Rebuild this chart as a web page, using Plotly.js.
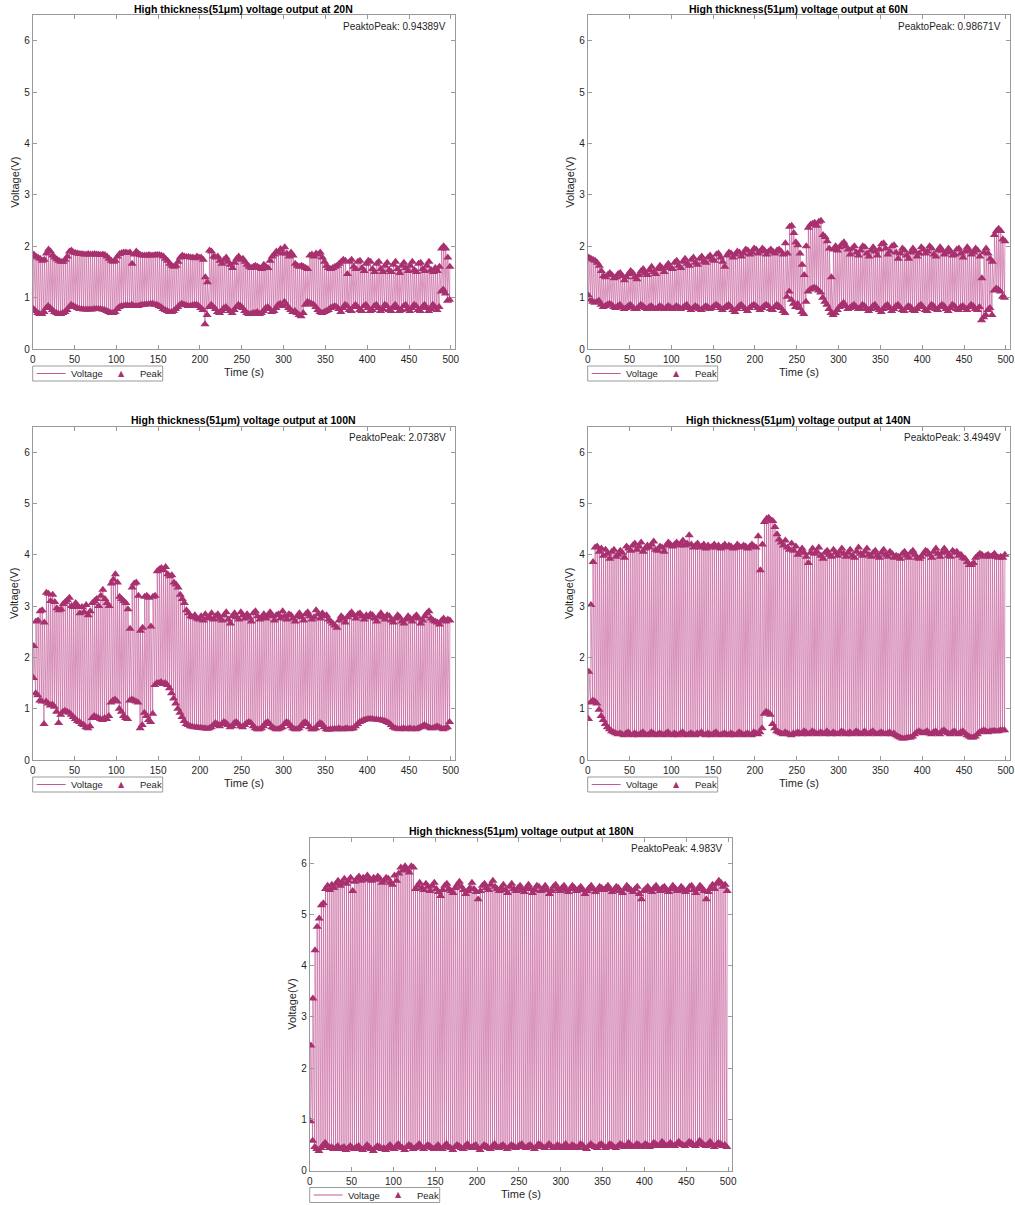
<!DOCTYPE html>
<html>
<head>
<meta charset="utf-8">
<script src="https://cdn.plot.ly/plotly-3.0.1.min.js"></script>
<style>
  html, body { margin: 0; padding: 0; background: #ffffff; }
  #chart { width: 1015px; height: 1205px; }
</style>
</head>
<body>
<div id="chart"></div>
<script>
// Load levels tested, and the peak-to-peak value reported for each run
const forceLabels = ['20N', '60N', '100N', '140N', '180N'];
const peakToPeak = ['0.94389', '0.98671', '2.0738', '3.4949', '4.983'];

// Sampling of the press/release cycles (seconds)
const cycleStart = 1.0;
const cyclePeriod = 2.5;
const riseTime = 0.4;

// Per-cycle maxima (hi) and minima (lo) of the voltage, in volts, 200 cycles per run
const hi20N = [
  1.84,1.80,1.78,1.76,1.72,1.74,1.86,1.94,1.90,1.82,1.78,1.75,1.72,1.70,1.70,1.74,1.80,1.90,1.92,1.88,
  1.87,1.86,1.85,1.85,1.84,1.84,1.85,1.84,1.84,1.85,1.84,1.84,1.83,1.84,1.83,1.80,1.76,1.72,1.70,1.72,
  1.80,1.85,1.87,1.88,1.88,1.87,1.88,1.66,1.84,1.90,1.86,1.83,1.82,1.82,1.82,1.83,1.82,1.82,1.83,1.83,
  1.83,1.82,1.80,1.76,1.72,1.66,1.62,1.60,1.62,1.70,1.78,1.82,1.80,1.79,1.79,1.78,1.78,1.77,1.80,1.78,
  1.78,1.74,1.40,1.30,1.92,1.90,1.80,1.78,1.80,1.72,1.66,1.74,1.78,1.70,1.64,1.58,1.68,1.76,1.80,1.74,
  1.76,1.70,1.64,1.60,1.58,1.60,1.62,1.60,1.58,1.56,1.64,1.60,1.58,1.72,1.80,1.84,1.90,1.88,1.95,1.86,
  1.98,1.86,1.80,1.88,1.82,1.66,1.62,1.60,1.62,1.60,1.58,1.56,1.82,1.84,1.80,1.86,1.84,1.88,1.78,1.70,
  1.62,1.58,1.56,1.58,1.60,1.62,1.66,1.70,1.74,1.72,1.46,1.70,1.74,1.60,1.56,1.70,1.72,1.58,1.52,1.66,
  1.72,1.70,1.56,1.50,1.66,1.70,1.56,1.50,1.62,1.68,1.54,1.50,1.64,1.70,1.56,1.48,1.62,1.68,1.58,1.52,
  1.62,1.70,1.54,1.50,1.66,1.68,1.56,1.52,1.62,1.70,1.54,1.50,1.58,1.52,1.60,1.96,2.00,1.96,1.78,1.60
];
const lo20N = [
  0.78,0.74,0.70,0.68,0.68,0.72,0.80,0.84,0.80,0.76,0.72,0.70,0.68,0.68,0.70,0.72,0.76,0.82,0.86,0.84,
  0.82,0.80,0.78,0.78,0.77,0.77,0.77,0.77,0.77,0.78,0.78,0.78,0.78,0.77,0.76,0.74,0.72,0.70,0.70,0.72,
  0.78,0.82,0.84,0.84,0.85,0.85,0.84,0.86,0.84,0.84,0.84,0.85,0.86,0.86,0.87,0.87,0.88,0.88,0.86,0.86,
  0.84,0.82,0.78,0.76,0.74,0.72,0.72,0.74,0.78,0.82,0.86,0.88,0.86,0.85,0.84,0.84,0.85,0.86,0.86,0.84,
  0.80,0.76,0.48,0.66,0.82,0.86,0.82,0.78,0.72,0.70,0.74,0.80,0.82,0.78,0.74,0.70,0.76,0.82,0.86,0.84,
  0.80,0.74,0.70,0.68,0.68,0.70,0.70,0.72,0.68,0.70,0.74,0.80,0.82,0.78,0.72,0.74,0.80,0.86,0.88,0.84,
  0.92,0.86,0.80,0.76,0.72,0.74,0.70,0.66,0.64,0.70,0.86,0.92,0.90,0.88,0.86,0.82,0.76,0.72,0.70,0.72,
  0.74,0.76,0.80,0.82,0.84,0.82,0.78,0.72,0.80,0.86,0.84,0.76,0.74,0.82,0.86,0.82,0.76,0.74,0.84,0.86,
  0.80,0.74,0.76,0.84,0.86,0.80,0.74,0.78,0.86,0.84,0.76,0.74,0.82,0.86,0.80,0.74,0.76,0.84,0.86,0.78,
  0.74,0.80,0.86,0.84,0.76,0.74,0.82,0.86,0.80,0.74,0.78,0.86,0.82,0.76,0.82,1.12,1.16,1.08,0.94,0.96
];

const hi60N = [
  1.78,1.76,1.74,1.72,1.68,1.62,1.52,1.42,1.40,1.44,1.48,1.44,1.38,1.40,1.46,1.48,1.42,1.34,1.40,1.46,
  1.52,1.48,1.40,1.36,1.44,1.52,1.56,1.48,1.44,1.54,1.60,1.50,1.46,1.56,1.62,1.58,1.50,1.60,1.66,1.58,
  1.56,1.68,1.72,1.62,1.58,1.70,1.76,1.66,1.62,1.74,1.78,1.68,1.64,1.76,1.80,1.70,1.68,1.78,1.82,1.74,
  1.72,1.84,1.86,1.78,1.70,1.60,1.82,1.88,1.86,1.78,1.84,1.90,1.88,1.80,1.86,1.94,1.92,1.84,1.88,1.96,
  1.94,1.86,1.90,1.96,1.92,1.84,1.90,1.94,1.90,1.86,1.92,1.94,1.90,1.84,2.06,1.86,2.38,2.40,2.26,2.08,
  2.02,1.86,1.64,1.44,2.00,2.36,2.42,2.44,2.46,2.40,2.48,2.50,2.22,2.18,2.10,1.96,1.40,1.94,2.00,1.92,
  1.98,2.04,2.08,2.00,1.94,1.84,1.96,2.00,1.88,1.82,1.92,2.00,1.98,1.86,1.80,1.92,1.98,1.90,1.82,1.94,
  2.04,2.06,1.96,1.84,1.90,2.00,2.02,1.88,1.76,1.86,1.96,1.92,1.82,1.76,1.88,1.96,1.90,1.80,1.86,1.98,
  1.94,1.86,1.90,2.00,1.96,1.84,1.80,1.92,1.98,1.92,1.84,1.88,1.96,1.90,1.82,1.84,1.94,1.96,1.86,1.78,
  1.90,1.98,1.92,1.84,1.88,1.96,1.92,1.80,1.38,1.88,1.96,1.86,1.76,1.70,2.22,2.30,2.34,2.30,2.14,2.10
];
const lo60N = [
  1.04,0.96,0.92,0.90,0.92,0.94,0.86,0.82,0.84,0.86,0.88,0.86,0.82,0.80,0.84,0.86,0.82,0.78,0.80,0.84,
  0.86,0.82,0.78,0.78,0.82,0.86,0.84,0.80,0.78,0.82,0.84,0.80,0.78,0.80,0.84,0.82,0.78,0.80,0.84,0.82,
  0.78,0.80,0.84,0.82,0.78,0.80,0.84,0.86,0.80,0.76,0.80,0.84,0.82,0.78,0.76,0.80,0.84,0.82,0.78,0.80,
  0.84,0.86,0.84,0.80,0.76,0.80,0.84,0.86,0.82,0.76,0.72,0.78,0.84,0.86,0.82,0.78,0.74,0.80,0.84,0.86,
  0.84,0.80,0.76,0.80,0.84,0.86,0.84,0.78,0.76,0.82,0.86,0.84,0.80,0.74,0.70,1.02,1.12,0.96,0.88,0.82,
  0.88,0.80,0.72,0.68,0.92,1.12,1.16,1.18,1.20,1.18,1.14,1.10,1.00,0.92,0.86,0.78,0.70,0.66,0.70,0.76,
  0.82,0.86,0.90,0.84,0.78,0.80,0.84,0.86,0.82,0.78,0.80,0.86,0.84,0.78,0.74,0.78,0.84,0.86,0.80,0.76,
  0.72,0.78,0.84,0.86,0.80,0.74,0.78,0.84,0.86,0.82,0.76,0.74,0.80,0.84,0.82,0.76,0.74,0.78,0.84,0.86,
  0.82,0.76,0.74,0.80,0.86,0.84,0.78,0.76,0.82,0.86,0.84,0.78,0.74,0.80,0.86,0.84,0.78,0.76,0.82,0.84,
  0.80,0.76,0.82,0.86,0.84,0.78,0.76,0.82,0.56,0.62,0.66,0.76,0.80,0.66,1.14,1.18,1.16,1.12,1.02,1.00
];

const hi100N = [
  2.22,2.70,2.72,2.90,2.92,2.68,3.26,3.24,3.10,3.22,3.08,2.96,2.92,2.94,3.04,3.08,3.12,3.16,3.00,2.98,
  3.06,3.00,2.86,2.98,2.88,3.02,2.82,2.90,3.06,3.10,3.14,3.00,3.20,3.32,3.14,3.06,3.00,3.44,3.52,3.62,
  3.46,3.18,3.14,3.10,3.06,2.94,2.56,3.36,3.44,3.46,3.20,2.52,2.58,3.18,3.20,3.16,2.60,3.18,3.20,3.68,
  3.72,3.74,3.70,3.76,3.62,3.58,3.60,3.46,3.42,3.36,3.22,3.14,3.06,2.92,2.86,2.80,2.78,2.82,2.76,2.74,
  2.80,2.72,2.84,2.76,2.78,2.86,2.74,2.80,2.84,2.76,2.72,2.82,2.88,2.74,2.66,2.80,2.86,2.78,2.74,2.88,
  2.82,2.76,2.84,2.78,2.70,2.86,2.90,2.80,2.74,2.78,2.84,2.76,2.82,2.88,2.80,2.72,2.82,2.84,2.76,2.90,
  2.80,2.74,2.84,2.82,2.76,2.70,2.80,2.86,2.78,2.72,2.84,2.88,2.80,2.74,2.78,2.92,2.84,2.76,2.86,2.80,
  2.82,2.74,2.70,2.66,2.62,2.58,2.72,2.80,2.76,2.68,2.78,2.84,2.88,2.82,2.76,2.84,2.86,2.80,2.74,2.82,
  2.78,2.84,2.82,2.76,2.70,2.80,2.86,2.78,2.74,2.82,2.80,2.72,2.68,2.76,2.82,2.78,2.70,2.66,2.74,2.80,
  2.76,2.70,2.78,2.82,2.76,2.66,2.72,2.80,2.86,2.90,2.76,2.72,2.70,2.68,2.64,2.72,2.76,2.70,2.74,2.72
];
const lo100N = [
  1.60,1.30,1.26,1.16,1.14,0.70,1.14,1.10,1.06,1.08,1.04,0.94,0.72,0.88,0.94,0.96,0.94,0.92,0.88,0.84,
  0.80,0.76,0.74,0.70,0.68,0.64,0.62,0.66,0.82,0.86,0.84,0.82,0.80,0.78,0.82,0.80,0.86,1.12,1.16,1.18,
  1.14,1.00,0.94,0.86,0.82,0.80,1.16,1.18,1.16,1.14,1.12,0.62,0.68,0.92,0.86,0.78,0.74,0.90,1.46,1.50,
  1.50,1.52,1.48,1.50,1.46,1.40,1.30,1.20,1.10,1.00,0.92,0.84,0.76,0.70,0.68,0.66,0.65,0.64,0.64,0.63,
  0.63,0.62,0.62,0.61,0.62,0.64,0.68,0.72,0.70,0.66,0.70,0.74,0.72,0.68,0.64,0.66,0.72,0.74,0.70,0.66,
  0.64,0.68,0.72,0.74,0.72,0.66,0.62,0.60,0.60,0.62,0.66,0.72,0.74,0.70,0.64,0.62,0.60,0.60,0.62,0.64,
  0.70,0.74,0.72,0.66,0.62,0.60,0.60,0.62,0.66,0.72,0.74,0.70,0.64,0.60,0.60,0.62,0.68,0.72,0.70,0.64,
  0.60,0.59,0.60,0.60,0.61,0.60,0.62,0.60,0.60,0.61,0.62,0.60,0.61,0.62,0.66,0.70,0.74,0.76,0.78,0.79,
  0.80,0.80,0.80,0.79,0.79,0.78,0.78,0.77,0.76,0.74,0.72,0.68,0.64,0.62,0.61,0.60,0.61,0.62,0.60,0.61,
  0.62,0.60,0.61,0.60,0.62,0.64,0.66,0.68,0.66,0.64,0.62,0.62,0.64,0.66,0.64,0.62,0.60,0.62,0.64,0.74
];

const hi140N = [
  1.72,3.02,3.86,4.14,4.16,4.06,4.12,3.98,4.10,4.02,3.92,4.06,4.10,3.96,4.00,4.08,4.04,3.94,4.16,4.12,
  4.08,4.18,4.22,4.10,4.16,4.24,4.06,4.12,4.18,4.14,4.20,4.26,4.10,4.08,4.16,4.14,4.06,4.18,4.24,4.20,
  4.16,4.20,4.24,4.18,4.22,4.28,4.18,4.22,4.38,4.20,4.14,4.18,4.22,4.14,4.16,4.20,4.12,4.18,4.14,4.16,
  4.20,4.14,4.18,4.12,4.16,4.20,4.14,4.18,4.16,4.12,4.14,4.20,4.16,4.14,4.18,4.16,4.12,4.16,4.20,4.16,
  4.14,4.36,3.70,4.20,4.64,4.70,4.72,4.68,4.66,4.54,4.40,4.30,4.24,4.18,4.28,4.14,4.10,4.22,4.08,4.16,
  4.00,4.06,4.12,4.04,3.96,3.84,4.04,4.12,4.02,4.06,4.14,3.98,3.92,4.04,4.08,4.00,3.96,4.10,4.04,3.98,
  4.06,4.12,4.02,3.96,4.04,4.10,3.98,3.94,4.06,4.14,4.02,3.98,4.06,4.12,4.00,3.96,4.04,4.08,3.98,3.94,
  4.04,4.10,4.00,3.96,4.06,4.02,3.94,3.98,3.96,3.92,4.02,4.06,3.98,3.94,4.04,4.08,4.00,3.94,3.92,3.96,
  4.02,4.08,4.06,4.00,3.94,4.06,4.12,4.02,3.96,4.04,4.12,4.06,3.98,3.96,4.08,4.04,4.06,3.98,4.00,3.94,
  3.92,3.86,3.80,3.80,3.84,3.94,3.98,4.02,4.00,3.96,3.98,4.00,3.96,3.98,4.02,3.96,3.94,3.96,3.94,4.00
];
const lo140N = [
  0.80,1.12,1.16,1.14,1.10,0.98,0.86,0.78,0.70,0.64,0.60,0.56,0.54,0.52,0.50,0.52,0.50,0.48,0.52,0.54,
  0.50,0.48,0.52,0.50,0.48,0.52,0.54,0.50,0.48,0.50,0.54,0.52,0.48,0.50,0.52,0.50,0.48,0.52,0.54,0.50,
  0.48,0.52,0.50,0.48,0.52,0.54,0.50,0.48,0.50,0.52,0.50,0.48,0.52,0.50,0.54,0.50,0.48,0.52,0.50,0.48,
  0.52,0.54,0.50,0.48,0.50,0.52,0.50,0.48,0.52,0.50,0.48,0.50,0.54,0.52,0.48,0.50,0.52,0.50,0.48,0.54,
  0.52,0.50,0.54,0.62,0.90,0.94,0.92,0.88,0.70,0.62,0.56,0.54,0.52,0.50,0.54,0.52,0.50,0.48,0.52,0.50,
  0.54,0.52,0.50,0.56,0.54,0.50,0.52,0.56,0.54,0.50,0.52,0.54,0.52,0.50,0.56,0.52,0.50,0.54,0.52,0.50,
  0.52,0.56,0.54,0.50,0.52,0.54,0.50,0.52,0.56,0.54,0.50,0.52,0.56,0.52,0.50,0.54,0.56,0.52,0.50,0.52,
  0.54,0.52,0.50,0.52,0.54,0.50,0.52,0.48,0.46,0.44,0.42,0.42,0.43,0.44,0.44,0.46,0.50,0.54,0.56,0.54,
  0.52,0.54,0.56,0.52,0.50,0.54,0.56,0.52,0.50,0.56,0.58,0.54,0.52,0.50,0.54,0.56,0.52,0.50,0.54,0.56,
  0.52,0.48,0.46,0.44,0.44,0.46,0.50,0.54,0.56,0.58,0.56,0.54,0.56,0.56,0.57,0.56,0.56,0.58,0.58,0.58
];

const hi180N = [
  2.44,3.36,4.30,4.76,4.92,5.18,5.22,5.50,5.56,5.48,5.58,5.52,5.60,5.66,5.56,5.62,5.70,5.60,5.66,5.72,
  5.46,5.64,5.70,5.74,5.66,5.72,5.68,5.76,5.70,5.66,5.72,5.68,5.74,5.70,5.62,5.66,5.72,5.70,5.62,5.58,
  5.76,5.66,5.80,5.92,5.86,5.94,5.88,5.82,5.94,5.92,5.50,5.56,5.62,5.52,5.48,5.60,5.54,5.46,5.56,5.62,
  5.50,5.44,5.36,5.48,5.56,5.60,5.50,5.46,5.42,5.52,5.58,5.64,5.54,5.48,5.40,5.46,5.52,5.62,5.50,5.44,
  5.30,5.46,5.56,5.60,5.52,5.48,5.58,5.66,5.54,5.50,5.46,5.52,5.58,5.48,5.42,5.54,5.60,5.50,5.46,5.52,
  5.56,5.48,5.44,5.52,5.58,5.50,5.42,5.48,5.56,5.54,5.46,5.50,5.56,5.48,5.40,5.46,5.54,5.58,5.50,5.46,
  5.52,5.56,5.48,5.44,5.50,5.56,5.52,5.46,5.50,5.54,5.48,5.40,5.46,5.52,5.56,5.50,5.44,5.48,5.54,5.52,
  5.48,5.52,5.56,5.50,5.44,5.48,5.54,5.52,5.46,5.42,5.50,5.56,5.52,5.48,5.44,5.50,5.54,5.40,5.30,5.46,
  5.50,5.54,5.48,5.44,5.52,5.56,5.50,5.46,5.52,5.54,5.48,5.44,5.50,5.56,5.52,5.46,5.48,5.54,5.50,5.44,
  5.48,5.54,5.56,5.48,5.42,5.50,5.56,5.52,5.46,5.30,5.44,5.52,5.58,5.50,5.60,5.66,5.62,5.54,5.58,5.46
];
const lo180N = [
  0.96,0.58,0.46,0.42,0.38,0.44,0.50,0.54,0.48,0.44,0.46,0.42,0.44,0.48,0.42,0.44,0.46,0.40,0.44,0.48,
  0.44,0.42,0.46,0.48,0.42,0.40,0.44,0.50,0.46,0.42,0.38,0.44,0.48,0.46,0.42,0.44,0.40,0.46,0.50,0.44,
  0.42,0.48,0.52,0.46,0.44,0.40,0.46,0.50,0.48,0.42,0.44,0.48,0.52,0.46,0.42,0.46,0.50,0.48,0.44,0.42,
  0.46,0.50,0.44,0.42,0.48,0.52,0.46,0.44,0.40,0.46,0.50,0.48,0.44,0.42,0.48,0.52,0.46,0.44,0.48,0.50,
  0.44,0.40,0.46,0.50,0.48,0.44,0.42,0.48,0.52,0.46,0.44,0.48,0.50,0.46,0.42,0.46,0.50,0.48,0.44,0.46,
  0.50,0.52,0.46,0.44,0.48,0.50,0.46,0.42,0.46,0.52,0.50,0.46,0.44,0.48,0.52,0.48,0.44,0.46,0.50,0.48,
  0.44,0.48,0.52,0.46,0.44,0.50,0.48,0.44,0.46,0.52,0.50,0.44,0.42,0.48,0.52,0.48,0.46,0.44,0.50,0.52,
  0.48,0.44,0.46,0.52,0.50,0.46,0.44,0.48,0.52,0.50,0.46,0.48,0.54,0.50,0.46,0.48,0.52,0.50,0.46,0.48,
  0.52,0.50,0.46,0.48,0.54,0.52,0.48,0.50,0.56,0.52,0.48,0.50,0.54,0.50,0.48,0.52,0.56,0.52,0.50,0.48,
  0.52,0.56,0.54,0.50,0.48,0.52,0.58,0.54,0.50,0.48,0.52,0.56,0.50,0.46,0.50,0.54,0.52,0.48,0.50,0.46
];

// Axis ticks
const timeTicks = [0, 50, 100, 150, 200, 250, 300, 350, 400, 450, 500];
const voltTicks = [0, 1, 2, 3, 4, 5, 6];

const runs = [
  { hi: hi20N, lo: lo20N },
  { hi: hi60N, lo: lo60N },
  { hi: hi100N, lo: lo100N },
  { hi: hi140N, lo: lo140N },
  { hi: hi180N, lo: lo180N }
];

// Panel boxes in pixels (left, right, top, bottom) on a 1015 x 1205 page
const W = 1015, H = 1205;
const boxes = [
  [32.7, 455.0, 15.3, 349.0],
  [587.7, 1010.0, 15.3, 349.0],
  [32.7, 455.0, 426.5, 760.0],
  [587.7, 1010.0, 426.5, 760.0],
  [309.7, 732.3, 837.7, 1170.5]
];

const lineColor = '#c45a98';
const peakColor = '#a8306f';
const axisColor = '#9a9a9a';
const textColor = '#1f1f1f';
const fontFamily = '"Liberation Sans", Arial, Helvetica, sans-serif';

const traces = [];
const layout = {
  width: W,
  height: H,
  margin: { l: 0, r: 0, t: 0, b: 0 },
  paper_bgcolor: '#ffffff',
  plot_bgcolor: '#ffffff',
  font: { family: fontFamily, size: 10, color: textColor },
  showlegend: false,
  annotations: [],
  shapes: []
};

const px2x = p => p / W;
const px2y = p => 1 - p / H;

runs.forEach((run, k) => {
  const n = k + 1;
  const sfx = n === 1 ? '' : String(n);
  const xa = 'x' + sfx, ya = 'y' + sfx;
  const [left, right, top, bottom] = boxes[k];

  // Voltage trace: each cycle rises sharply to its maximum, then falls to the next minimum
  const vx = [], vy = [];
  run.hi.forEach((h, i) => {
    const tLo = cycleStart + cyclePeriod * i;
    vx.push(tLo, tLo + riseTime);
    vy.push(run.lo[i], h);
  });

  traces.push({
    type: 'scatter', mode: 'lines', name: 'Voltage',
    x: vx, y: vy, xaxis: xa, yaxis: ya,
    line: { color: lineColor, width: 0.65 },
    hoverinfo: 'skip'
  });
  traces.push({
    type: 'scatter', mode: 'markers', name: 'Peak',
    x: vx, y: vy, xaxis: xa, yaxis: ya,
    marker: { symbol: 'triangle-up', size: 8, color: peakColor, line: { width: 0 } }
  });

  const axisCommon = {
    showgrid: false, zeroline: false,
    showline: true, linecolor: axisColor, linewidth: 1, mirror: 'ticks',
    ticks: 'inside', ticklen: 4, tickwidth: 1, tickcolor: axisColor,
    tickfont: { family: fontFamily, size: 10, color: textColor },
    fixedrange: true
  };
  layout['xaxis' + sfx] = Object.assign({}, axisCommon, {
    domain: [px2x(left), px2x(right)],
    anchor: ya,
    range: [0, 505],
    ticklabelstandoff: 1,
    tickmode: 'array', tickvals: timeTicks, ticktext: timeTicks.map(String)
  });
  layout['yaxis' + sfx] = Object.assign({}, axisCommon, {
    domain: [px2y(bottom), px2y(top)],
    anchor: xa,
    range: [0, 6.5],
    tickmode: 'array', tickvals: voltTicks, ticktext: voltTicks.map(String)
  });

  const xd = xa + ' domain', yd = ya + ' domain';
  layout.annotations.push(
    { // panel title
      text: '<b>High thickness(51μm) voltage output at ' + forceLabels[k] + '</b>',
      xref: xd, yref: yd, x: 0.5, y: 1, xanchor: 'center', yanchor: 'middle',
      yshift: 6.5, showarrow: false,
      font: { family: fontFamily, size: 10.5, color: '#000000' }
    },
    { // peak-to-peak readout
      text: 'PeaktoPeak: ' + peakToPeak[k] + 'V',
      xref: xd, yref: yd, x: 1, y: 1, xanchor: 'right', yanchor: 'middle',
      xshift: -7, yshift: -11, showarrow: false,
      font: { family: fontFamily, size: 10, color: textColor }
    },
    { // x axis title
      text: 'Time (s)',
      xref: xd, yref: yd, x: 0.5, y: 0, xanchor: 'center', yanchor: 'middle',
      yshift: -23, showarrow: false,
      font: { family: fontFamily, size: 11, color: textColor }
    },
    { // y axis title
      text: 'Voltage(V)',
      xref: xd, yref: yd, x: 0, y: 0.5, xanchor: 'center', yanchor: 'middle',
      xshift: -18, textangle: -90, showarrow: false,
      font: { family: fontFamily, size: 11, color: textColor }
    }
  );

  // Compact legend box under each panel
  const legTop = bottom + 17, legBot = bottom + 32, legMid = bottom + 24.5;
  layout.shapes.push(
    { type: 'rect', xref: 'paper', yref: 'paper',
      x0: px2x(left), x1: px2x(left + 130), y0: px2y(legBot), y1: px2y(legTop),
      line: { color: axisColor, width: 1 }, fillcolor: '#ffffff' },
    { type: 'line', xref: 'paper', yref: 'paper',
      x0: px2x(left + 4), x1: px2x(left + 33), y0: px2y(legMid), y1: px2y(legMid),
      line: { color: lineColor, width: 1 } }
  );
  layout.annotations.push(
    { text: 'Voltage', xref: 'paper', yref: 'paper', x: px2x(left + 36), y: px2y(legMid),
      xanchor: 'left', yanchor: 'middle', showarrow: false,
      font: { family: fontFamily, size: 9.5, color: textColor } },
    { text: '▲', xref: 'paper', yref: 'paper', x: px2x(left + 89), y: px2y(legMid - 0.5),
      xanchor: 'center', yanchor: 'middle', showarrow: false,
      font: { family: '"DejaVu Sans", sans-serif', size: 8, color: peakColor } },
    { text: 'Peak', xref: 'paper', yref: 'paper', x: px2x(left + 105), y: px2y(legMid),
      xanchor: 'left', yanchor: 'middle', showarrow: false,
      font: { family: fontFamily, size: 9.5, color: textColor } }
  );
});

Plotly.newPlot('chart', traces, layout, { displayModeBar: false, staticPlot: true });
</script>
</body>
</html>
